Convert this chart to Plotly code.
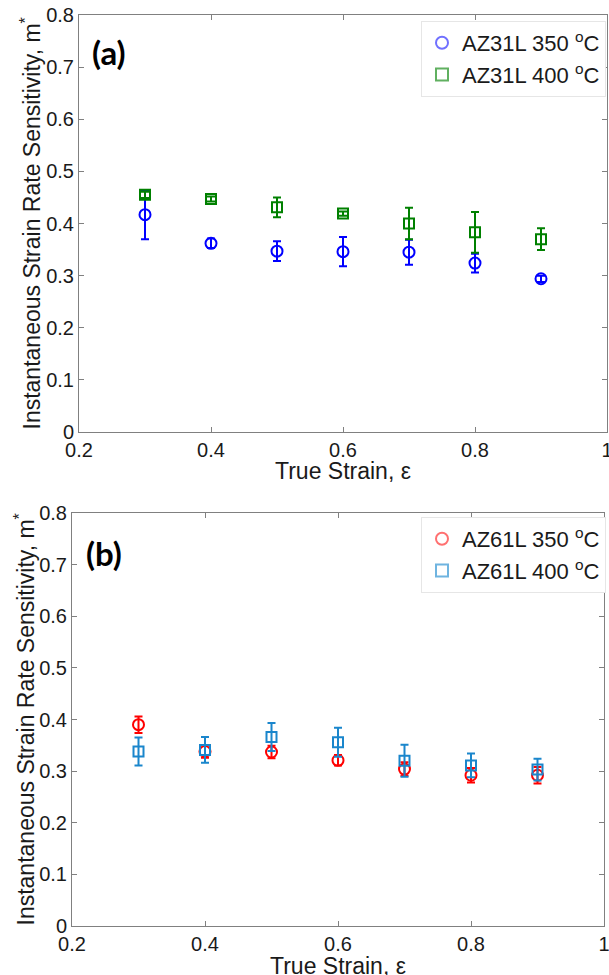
import plotly.graph_objects as go

strain = [0.3, 0.4, 0.5, 0.6, 0.7, 0.8, 0.9]

# Panel (a)
az31_350 = [0.417, 0.362, 0.347, 0.346, 0.345, 0.324, 0.294]
az31_350_err = [0.047, 0.009, 0.019, 0.028, 0.024, 0.018, 0.006]
az31_400 = [0.455, 0.447, 0.431, 0.419, 0.400, 0.383, 0.370]
az31_400_err = [0.006, 0.005, 0.019, 0.004, 0.030, 0.039, 0.021]

# Panel (b)
az61_350 = [0.390, 0.338, 0.337, 0.321, 0.304, 0.292, 0.292]
az61_350_err = [0.016, 0.012, 0.012, 0.010, 0.013, 0.014, 0.016]
az61_400 = [0.338, 0.341, 0.366, 0.356, 0.320, 0.311, 0.303]
az61_400_err = [0.027, 0.025, 0.027, 0.028, 0.031, 0.023, 0.021]

x_ticks = [0.2, 0.4, 0.6, 0.8, 1.0]
x_ticklabels = ["0.2", "0.4", "0.6", "0.8", "1"]
y_ticks = [0, 0.1, 0.2, 0.3, 0.4, 0.5, 0.6, 0.7, 0.8]
y_ticklabels = ["0", "0.1", "0.2", "0.3", "0.4", "0.5", "0.6", "0.7", "0.8"]

x_title = "True Strain, ε"
y_title = "Instantaneous Strain Rate Sensitivity, m<sup>*</sup>"

W, H = 609, 975
FONT = "Arial"
TXT = "#1a1a1a"

BLUE = "#0000ff"
GREEN = "#008000"
RED = "#ff0000"
LBLUE = "#1a86cc"

fig = go.Figure()


def add_series(y, err, name, color, legend_color, symbol, size, xa, ya, legend):
    # data marks with error bars
    fig.add_trace(go.Scatter(
        x=strain, y=y, mode="markers", name=name, showlegend=False,
        xaxis=xa, yaxis=ya,
        marker=dict(symbol=symbol, size=size, color=color,
                    line=dict(color=color, width=2)),
        error_y=dict(type="data", array=err, visible=True, color=color,
                     thickness=2, width=4),
    ))
    # legend entry (thin, light symbol like the original)
    fig.add_trace(go.Scatter(
        x=[None], y=[None], mode="markers", name=name, showlegend=True,
        xaxis=xa, yaxis=ya, legend=legend,
        marker=dict(symbol=symbol, size=size, color=legend_color,
                    line=dict(color=legend_color, width=1.2)),
    ))


add_series(az31_350, az31_350_err, "AZ31L 350 <sup>o</sup>C", BLUE, "#7070ff", "circle-open", 11, "x", "y", "legend")
add_series(az31_400, az31_400_err, "AZ31L 400 <sup>o</sup>C", GREEN, "#60b060", "square-open", 10, "x", "y", "legend")
add_series(az61_350, az61_350_err, "AZ61L 350 <sup>o</sup>C", RED, "#ff7070", "circle-open", 11, "x2", "y2", "legend2")
add_series(az61_400, az61_400_err, "AZ61L 400 <sup>o</sup>C", LBLUE, "#6fb4e0", "square-open", 10, "x2", "y2", "legend2")

axis_common = dict(
    showgrid=False, zeroline=False, showline=True, linecolor="#808080", linewidth=1,
    mirror="allticks", ticks="inside", ticklen=5, tickcolor="#808080",
    tickfont=dict(family=FONT, size=20, color=TXT), automargin=False,
    ticklabeloverflow="allow",
)

# pixel geometry of the two panels
A_L, A_R, A_T, A_B = 79, 607, 15, 432
B_L, B_R, B_T, B_B = 72, 604, 513, 926

legend_common = dict(
    xanchor="right", yanchor="top", bgcolor="white", bordercolor="#e6e6e6",
    borderwidth=1, font=dict(family=FONT, size=22, color=TXT),
    itemsizing="constant", tracegroupgap=0,
)

fig.update_layout(
    width=W, height=H,
    margin=dict(l=0, r=0, t=0, b=0),
    paper_bgcolor="white", plot_bgcolor="white",
    showlegend=True,
    xaxis=dict(domain=[A_L / W, A_R / W], range=[0.2, 1.0], tickvals=x_ticks,
               ticktext=x_ticklabels, anchor="y", **axis_common),
    yaxis=dict(domain=[1 - A_B / H, 1 - A_T / H], range=[0, 0.8], tickvals=y_ticks,
               ticktext=y_ticklabels, anchor="x", **axis_common),
    xaxis2=dict(domain=[B_L / W, B_R / W], range=[0.2, 1.0], tickvals=x_ticks,
                ticktext=x_ticklabels, anchor="y2", **axis_common),
    yaxis2=dict(domain=[1 - B_B / H, 1 - B_T / H], range=[0, 0.8], tickvals=y_ticks,
                ticktext=y_ticklabels, anchor="x2", **axis_common),
    legend=dict(x=606 / W, y=1 - 21 / H, **legend_common),
    legend2=dict(x=606 / W, y=1 - 517 / H, **legend_common),
    annotations=[
        dict(text="<b>(a)</b>", x=90 / W, y=1 - 52 / H, xref="paper", yref="paper",
             xanchor="left", yanchor="middle", showarrow=False,
             font=dict(family="Lato", size=33, color="black")),
        dict(text="<b>(b)</b>", x=84 / W, y=1 - 553 / H, xref="paper", yref="paper",
             xanchor="left", yanchor="middle", showarrow=False,
             font=dict(family="Lato", size=33, color="black")),
        # axis titles
        dict(text=x_title, x=(A_L + A_R) / 2 / W, y=1 - 471 / H, xref="paper", yref="paper",
             xanchor="center", yanchor="middle", showarrow=False,
             font=dict(family=FONT, size=23, color=TXT)),
        dict(text=x_title, x=(B_L + B_R) / 2 / W, y=1 - 966 / H, xref="paper", yref="paper",
             xanchor="center", yanchor="middle", showarrow=False,
             font=dict(family=FONT, size=23, color=TXT)),
        dict(text=y_title, x=30 / W, y=1 - (A_T + A_B) / 2 / H, xref="paper", yref="paper",
             xanchor="center", yanchor="middle", showarrow=False, textangle=-90,
             font=dict(family=FONT, size=23, color=TXT)),
        dict(text=y_title, x=24 / W, y=1 - (B_T + B_B) / 2 / H, xref="paper", yref="paper",
             xanchor="center", yanchor="middle", showarrow=False, textangle=-90,
             font=dict(family=FONT, size=23, color=TXT)),
    ],
)

fig.write_html("out.html", config={"displayModeBar": False},
               post_script="document.body.style.margin='0';")
